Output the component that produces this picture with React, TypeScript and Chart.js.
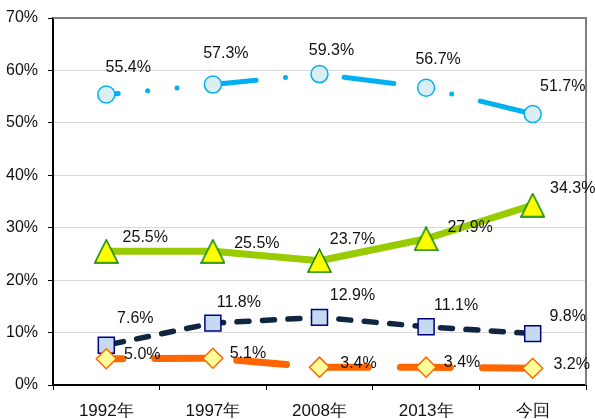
import React, { useEffect, useRef } from "react";
import { Chart, registerables } from "chart.js";

Chart.register(...registerables);

// ---- data ----
const categories = ["1992年", "1997年", "2008年", "2013年", "今回"];
const seriesBlue = [55.4, 57.3, 59.3, 56.7, 51.7];
const seriesGreen = [25.5, 25.5, 23.7, 27.9, 34.3];
const seriesNavy = [7.6, 11.8, 12.9, 11.1, 9.8];
const seriesOrange = [5.0, 5.1, 3.4, 3.4, 3.2];
const yMin = 0;
const yMax = 70;
const yStep = 10;

// label offsets (style, relative to each point)
const offBlue = [[22, -27], [13, -31], [12, -24], [12, -28], [30, -27]];
const offGreen = [[39, -14], [44, -8], [33, -21], [44, -11], [40, -17]];
const offNavy = [[29, -27], [26, -21], [33, -22], [30, -21], [35, -17]];
const offOrange = [[36, -4], [35, -5], [39, -4], [36, -5], [39, -4]];

const FONT = '"Liberation Sans", Arial, sans-serif';

function makeTriangle(): HTMLCanvasElement {
  const c = document.createElement("canvas");
  c.width = 25;
  c.height = 25;
  const g = c.getContext("2d")!;
  g.beginPath();
  g.moveTo(12.5, 1);
  g.lineTo(24, 24);
  g.lineTo(1, 24);
  g.closePath();
  g.fillStyle = "#FFFF00";
  g.fill();
  g.lineWidth = 1.5;
  g.strokeStyle = "#008000";
  g.lineJoin = "miter";
  g.stroke();
  return c;
}

const labelPlugin = {
  id: "valueLabels",
  afterDatasetsDraw(chart: any) {
    const ctx = chart.ctx;
    ctx.save();
    ctx.font = `16px ${FONT}`;
    ctx.fillStyle = "#111";
    ctx.textAlign = "center";
    ctx.textBaseline = "middle";
    chart.data.datasets.forEach((ds: any, di: number) => {
      const meta = chart.getDatasetMeta(di);
      meta.data.forEach((pt: any, i: number) => {
        const o = ds.labelOffsets[i];
        ctx.fillText(ds.data[i].toFixed(1) + "%", pt.x + o[0], pt.y + o[1]);
      });
    });
    ctx.restore();
  },
};

const framePlugin = {
  id: "frame",
  beforeDatasetsDraw(chart: any) {
    const { ctx, chartArea } = chart;
    ctx.save();
    ctx.strokeStyle = "#7f7f7f";
    ctx.lineWidth = 2;
    ctx.beginPath();
    ctx.moveTo(chartArea.left, chartArea.top);
    ctx.lineTo(chartArea.right, chartArea.top);
    ctx.lineTo(chartArea.right, chartArea.bottom);
    ctx.stroke();
    ctx.restore();
  },
};

export default function App() {
  const ref = useRef<HTMLCanvasElement>(null);
  useEffect(() => {
    if (!ref.current) return;
    const tri = makeTriangle();
    const chart = new Chart(ref.current, {
      type: "line",
      data: {
        labels: categories,
        datasets: [
          {
            label: "orange",
            data: seriesOrange,
            labelOffsets: offOrange,
            borderColor: "#FF6600",
            borderWidth: 7,
            borderCapStyle: "round",
            borderJoinStyle: "round",
            borderDash: [50, 32],
            borderDashOffset: 33.5,
            pointStyle: "rectRot",
            pointRadius: 10,
            pointBackgroundColor: "#FFFF99",
            pointBorderColor: "#FF6600",
            pointBorderWidth: 1.5,
            tension: 0,
          } as any,
          {
            label: "navy",
            data: seriesNavy,
            labelOffsets: offNavy,
            borderColor: "#10253F",
            borderWidth: 5.5,
            borderCapStyle: "round",
            borderJoinStyle: "round",
            borderDash: [12, 13.5],
            borderDashOffset: 20,
            pointStyle: "rect",
            pointRadius: 11.3,
            pointBackgroundColor: "#C5D9F1",
            pointBorderColor: "#000080",
            pointBorderWidth: 1.5,
            tension: 0,
          } as any,
          {
            label: "green",
            data: seriesGreen,
            labelOffsets: offGreen,
            borderColor: "#99CC00",
            borderWidth: 7,
            borderCapStyle: "round",
            borderJoinStyle: "round",
            pointStyle: tri,
            pointRadius: 12,
            tension: 0,
          } as any,
          {
            label: "blue",
            data: seriesBlue,
            labelOffsets: offBlue,
            borderColor: "#00B0F0",
            borderWidth: 5,
            borderCapStyle: "round",
            borderJoinStyle: "round",
            borderDash: [50, 29.5, 0, 29.5, 0, 29.5],
            borderDashOffset: 38,
            pointStyle: "circle",
            pointRadius: 8.5,
            pointBackgroundColor: "#DAEEF3",
            pointBorderColor: "#00B0F0",
            pointBorderWidth: 1.5,
            tension: 0,
          } as any,
        ],
      },
      options: {
        animation: false,
        responsive: false,
        devicePixelRatio: 1,
        layout: { autoPadding: false, padding: { top: 18, right: 9, left: 0, bottom: 0 } },
        plugins: {
          legend: { display: false },
          tooltip: { enabled: false },
          title: { display: false },
        },
        scales: {
          x: {
            type: "category",
            offset: true,
            afterFit: (s: any) => {
              s.height = 34;
              s.paddingLeft = 0;
              s.paddingRight = 0;
            },
            grid: {
              offset: true,
              drawOnChartArea: false,
              drawTicks: true,
              tickLength: 5,
              color: "#000",
              tickColor: "#000",
            },
            border: { display: true, color: "#000", width: 2 },
            ticks: {
              color: "#111",
              font: { family: FONT, size: 17 },
              padding: 11,
              maxRotation: 0,
              autoSkip: false,
            },
          },
          y: {
            min: yMin,
            max: yMax,
            afterFit: (s: any) => {
              s.width = 53;
              s.paddingTop = 0;
              s.paddingBottom = 0;
            },
            grid: {
              color: "#D9D9D9",
              lineWidth: 1,
              drawTicks: true,
              tickLength: 5,
              tickColor: "#000",
            },
            border: { display: true, color: "#000", width: 2 },
            ticks: {
              stepSize: yStep,
              color: "#111",
              font: { family: FONT, size: 16 },
              padding: 10,
              callback: (v: any) => v + "%",
            },
          },
        },
      },
      plugins: [framePlugin, labelPlugin],
    });
    return () => chart.destroy();
  }, []);
  return (
    <div style={{ position: "absolute", left: 0, top: 0, width: 595, height: 419, background: "#fff" }}>
      <canvas ref={ref} width={595} height={419} style={{ width: 595, height: 419, display: "block" }} />
    </div>
  );
}
